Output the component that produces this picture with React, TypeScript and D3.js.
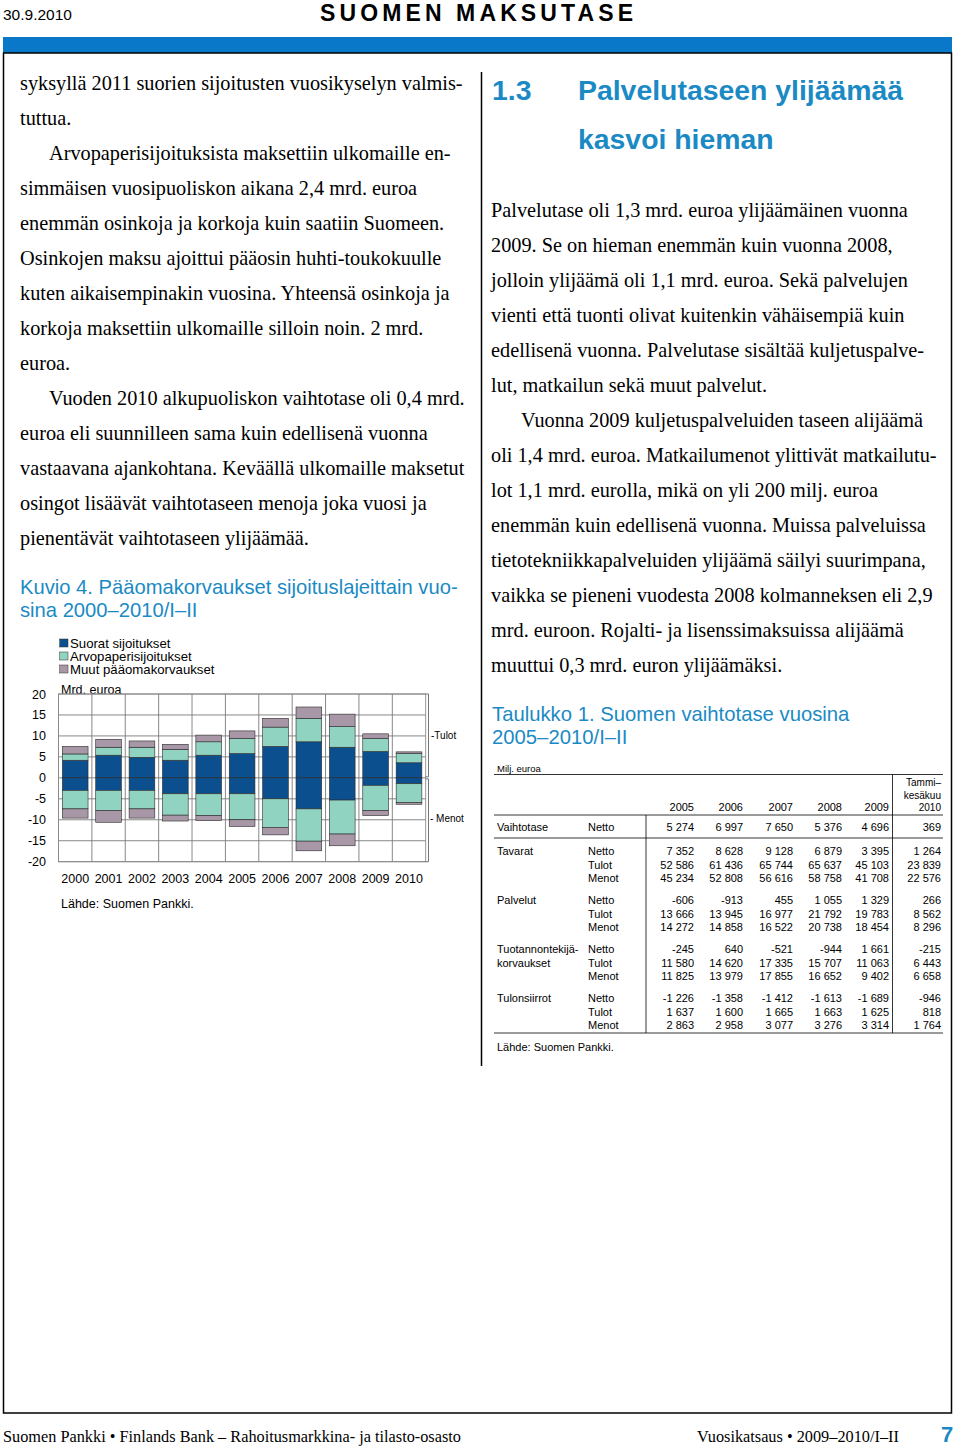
import * as d3 from "d3";

// Kuvio 4 – pääomakorvaukset, mrd. euroa
const years = ["2000", "2001", "2002", "2003", "2004", "2005", "2006", "2007", "2008", "2009", "2010"];
const suoratTulot = [4.2, 5.4, 4.9, 4.2, 5.4, 5.8, 7.5, 8.6, 7.3, 6.3, 3.6];
const arvoTulot = [1.5, 1.9, 2.4, 2.6, 3.2, 3.6, 4.6, 5.6, 4.9, 3.1, 2.2];
const muutTulot = [1.8, 1.9, 1.5, 1.2, 1.6, 1.8, 2.1, 2.7, 3.0, 1.1, 0.4];
const suoratMenot = [-3.0, -3.0, -3.0, -3.8, -3.8, -3.8, -5.0, -7.4, -5.3, -1.8, -1.4];
const arvoMenot = [-4.4, -4.8, -4.4, -5.1, -5.2, -6.2, -6.8, -7.7, -8.1, -6.0, -4.5];
const muutMenot = [-2.2, -2.8, -2.2, -1.4, -1.2, -1.6, -1.8, -2.3, -2.8, -1.2, -0.4];
const yTicks = [20, 15, 10, 5, 0, -5, -10, -15, -20];
const legendLabels = ["Suorat sijoitukset", "Arvopaperisijoitukset", "Muut pääomakorvaukset"];

// Taulukko 1
const tableYears = ["2005", "2006", "2007", "2008", "2009"];
const vaihtotase = [["Netto", "5 274", "6 997", "7 650", "5 376", "4 696", "369"]];
const tavarat = [
  ["Netto", "7 352", "8 628", "9 128", "6 879", "3 395", "1 264"],
  ["Tulot", "52 586", "61 436", "65 744", "65 637", "45 103", "23 839"],
  ["Menot", "45 234", "52 808", "56 616", "58 758", "41 708", "22 576"],
];
const palvelut = [
  ["Netto", "-606", "-913", "455", "1 055", "1 329", "266"],
  ["Tulot", "13 666", "13 945", "16 977", "21 792", "19 783", "8 562"],
  ["Menot", "14 272", "14 858", "16 522", "20 738", "18 454", "8 296"],
];
const tuotannontekija = [
  ["Netto", "-245", "640", "-521", "-944", "1 661", "-215"],
  ["Tulot", "11 580", "14 620", "17 335", "15 707", "11 063", "6 443"],
  ["Menot", "11 825", "13 979", "17 855", "16 652", "9 402", "6 658"],
];
const tulonsiirrot = [
  ["Netto", "-1 226", "-1 358", "-1 412", "-1 613", "-1 689", "-946"],
  ["Tulot", "1 637", "1 600", "1 665", "1 663", "1 625", "818"],
  ["Menot", "2 863", "2 958", "3 077", "3 276", "3 314", "1 764"],
];

const leftText = [
  "syksyllä 2011 suorien sijoitusten vuosikyselyn valmis-",
  "tuttua.",
  "Arvopaperisijoituksista maksettiin ulkomaille en-",
  "simmäisen vuosipuoliskon aikana 2,4 mrd. euroa",
  "enemmän osinkoja ja korkoja kuin saatiin Suomeen.",
  "Osinkojen maksu ajoittui pääosin huhti-toukokuulle",
  "kuten aikaisempinakin vuosina. Yhteensä osinkoja ja",
  "korkoja maksettiin ulkomaille silloin noin. 2 mrd.",
  "euroa.",
  "Vuoden 2010 alkupuoliskon vaihtotase oli 0,4 mrd.",
  "euroa eli suunnilleen sama kuin edellisenä vuonna",
  "vastaavana ajankohtana. Keväällä ulkomaille maksetut",
  "osingot lisäävät vaihtotaseen menoja joka vuosi ja",
  "pienentävät vaihtotaseen ylijäämää.",
];
const leftIndent = [2, 9];

const rightText = [
  "Palvelutase oli 1,3 mrd. euroa ylijäämäinen vuonna",
  "2009. Se on hieman enemmän kuin vuonna 2008,",
  "jolloin ylijäämä oli 1,1 mrd. euroa. Sekä palvelujen",
  "vienti että tuonti olivat kuitenkin vähäisempiä kuin",
  "edellisenä vuonna. Palvelutase sisältää kuljetuspalve-",
  "lut, matkailun sekä muut palvelut.",
  "Vuonna 2009 kuljetuspalveluiden taseen alijäämä",
  "oli 1,4 mrd. euroa. Matkailumenot ylittivät matkailutu-",
  "lot 1,1 mrd. eurolla, mikä on yli 200 milj. euroa",
  "enemmän kuin edellisenä vuonna. Muissa palveluissa",
  "tietotekniikkapalveluiden ylijäämä säilyi suurimpana,",
  "vaikka se pieneni vuodesta 2008 kolmanneksen eli 2,9",
  "mrd. euroon. Rojalti- ja lisenssimaksuissa alijäämä",
  "muuttui 0,3 mrd. euron ylijäämäksi.",
];
const rightIndent = [6];

const BLUE = "#1b8ac4";
const serif = "'Liberation Serif', 'Times New Roman', serif";
const sans = "'Liberation Sans', Arial, sans-serif";

const colors = ["#0b4f8e", "#90d3c1", "#a898a7"];

function Chart() {
  const x = d3.scaleBand().domain(years).range([58.5, 425.7]).paddingInner(0.23).paddingOuter(0.115);
  const xg = d3.scaleBand().domain(years).range([58.5, 425.7]).padding(0);
  const y = d3.scaleLinear().domain([-20, 20]).range([861.7, 694]);

  const rows = years.map((yr, i) => ({
    year: yr,
    s_in: suoratTulot[i], a_in: arvoTulot[i], m_in: muutTulot[i],
    s_out: suoratMenot[i], a_out: arvoMenot[i], m_out: muutMenot[i],
  }));
  const keys = ["s_in", "a_in", "m_in", "s_out", "a_out", "m_out"];
  const stacked = d3.stack<any>().keys(keys).offset(d3.stackOffsetDiverging)(rows);

  const [x0, x1] = [58.5, 425.7];
  return (
    <g>
      {/* legend */}
      {legendLabels.map((l, i) => (
        <g key={l}>
          <rect x={59.7} y={639 + i * 13} width={8.3} height={8} fill={colors[i]} stroke="#333" strokeWidth={0.5} />
          <text x={70} y={647.5 + i * 13} fontSize={13.2} fontFamily={sans}>{l}</text>
        </g>
      ))}
      <text x={61} y={693.5} fontSize={12.5} fontFamily={sans}>Mrd. euroa</text>

      {/* grid */}
      {yTicks.map((t) => (
        <line key={t} x1={x0} x2={x1} y1={y(t)} y2={y(t)} stroke="#7a7a7a" strokeWidth={0.9} />
      ))}
      {years.map((yr) => (
        <line key={yr} x1={xg(yr)} x2={xg(yr)} y1={y(20)} y2={y(-20)} stroke="#7a7a7a" strokeWidth={0.9} />
      ))}
      <rect x={x0} y={y(20)} width={x1 - x0} height={y(-20) - y(20)} fill="none" stroke="#8a8a8a" strokeWidth={0.9} />

      {/* bars */}
      {stacked.map((s, si) => (
        <g key={s.key}>
          {s.map((d: any) => (
            <rect
              key={d.data.year}
              x={x(d.data.year)}
              width={x.bandwidth()}
              y={y(Math.max(d[0], d[1]))}
              height={Math.abs(y(d[0]) - y(d[1]))}
              fill={colors[si % 3]}
              stroke="#2b2b2b"
              strokeWidth={0.6}
            />
          ))}
        </g>
      ))}

      {/* axes labels */}
      {yTicks.map((t) => (
        <text key={t} x={46} y={y(t) + 4.5} textAnchor="end" fontSize={12.5} fontFamily={sans}>{String(t)}</text>
      ))}
      {years.map((yr) => (
        <text key={yr} x={(x(yr) as number) + x.bandwidth() / 2} y={883} textAnchor="middle" fontSize={12.5} fontFamily={sans}>{yr}</text>
      ))}

      {/* brackets */}
      <path d={`M425.5,${y(20)} H428.5 V${y(0) - 1} H425.5`} fill="none" stroke="#666" strokeWidth={0.9} />
      <path d={`M425.5,${y(0) + 1} H428.5 V${y(-20)} H425.5`} fill="none" stroke="#666" strokeWidth={0.9} />
      <text x={431} y={y(10) + 3.5} fontSize={10} fontFamily={sans}>-Tulot</text>
      <text x={430} y={y(-10) + 2} fontSize={10} fontFamily={sans}>- Menot</text>

      <text x={61} y={908} fontSize={12.5} fontFamily={sans}>Lähde: Suomen Pankki.</text>
    </g>
  );
}

function Table() {
  const colRight = [694, 743, 793, 842, 889, 941];
  const groups = [
    { name: ["Tavarat"], rows: tavarat, y: 851 },
    { name: ["Palvelut"], rows: palvelut, y: 900 },
    { name: ["Tuotannontekijä-", "korvaukset"], rows: tuotannontekija, y: 949 },
    { name: ["Tulonsiirrot"], rows: tulonsiirrot, y: 998 },
  ];
  const fs = 11;
  const off = 4;
  return (
    <g fontFamily={sans} fontSize={fs}>
      <text x={497} y={768 + 3.5} fontSize={9.5}>Milj. euroa</text>
      <line x1={494} x2={943} y1={774.5} y2={774.5} stroke="#000" strokeWidth={0.8} />
      <text x={941} y={782 + off} textAnchor="end" fontSize={10}>Tammi–</text>
      <text x={941} y={795 + off} textAnchor="end" fontSize={10}>kesäkuu</text>
      <text x={941} y={807 + off} textAnchor="end" fontSize={10}>2010</text>
      {tableYears.map((yr, i) => (
        <text key={yr} x={colRight[i]} y={807 + off} textAnchor="end">{yr}</text>
      ))}
      <line x1={494} x2={943} y1={815} y2={815} stroke="#000" strokeWidth={0.8} />
      <text x={497} y={827 + off}>Vaihtotase</text>
      {vaihtotase.map((r) => (
        <g key="v">
          <text x={588} y={827 + off}>{r[0]}</text>
          {r.slice(1).map((v, j) => (
            <text key={j} x={colRight[j]} y={827 + off} textAnchor="end">{v}</text>
          ))}
        </g>
      ))}
      <line x1={494} x2={943} y1={838} y2={838} stroke="#000" strokeWidth={0.8} />
      {groups.map((g) => (
        <g key={g.name[0]}>
          {g.name.map((n, k) => (
            <text key={n} x={497} y={g.y + k * 13.5 + off}>{n}</text>
          ))}
          {g.rows.map((r, ri) => (
            <g key={r[0]}>
              <text x={588} y={g.y + ri * 13.5 + off}>{r[0]}</text>
              {r.slice(1).map((v, j) => (
                <text key={j} x={colRight[j]} y={g.y + ri * 13.5 + off} textAnchor="end">{v}</text>
              ))}
            </g>
          ))}
        </g>
      ))}
      <line x1={494} x2={943} y1={1033} y2={1033} stroke="#000" strokeWidth={0.8} />
      <line x1={646} x2={646} y1={815} y2={1033} stroke="#000" strokeWidth={0.8} />
      <line x1={892.5} x2={892.5} y1={774.5} y2={1033} stroke="#000" strokeWidth={0.8} />
      <text x={497} y={1047 + off}>Lähde: Suomen Pankki.</text>
    </g>
  );
}

export default function App() {
  return (
    <svg width={960} height={1450} style={{ position: "absolute", left: 0, top: 0, background: "#fff" }}>
      <rect width={960} height={1450} fill="#fff" />
      {/* header */}
      <text x={3} y={20} fontSize={15.5} fontFamily={sans}>30.9.2010</text>
      <text x={320} y={21} fontSize={23} fontWeight="bold" fontFamily={sans} textLength={313} lengthAdjust="spacing">SUOMEN MAKSUTASE</text>
      <rect x={3} y={37} width={949} height={16} fill="#0a78c8" />
      <rect x={3.5} y={53} width={948} height={1360} fill="none" stroke="#000" strokeWidth={1.5} />
      <line x1={481.5} x2={481.5} y1={72} y2={1066} stroke="#000" strokeWidth={1.5} />

      {/* left column */}
      {leftText.map((l, i) => (
        <text key={i} x={leftIndent.includes(i) ? 49 : 20} y={90 + i * 35} fontSize={20.3} fontFamily={serif}>{l}</text>
      ))}
      <text x={20} y={594} fontSize={20.2} fontFamily={sans} fill={BLUE}>Kuvio 4. Pääomakorvaukset sijoituslajeittain vuo-</text>
      <text x={20} y={617} fontSize={20.2} fontFamily={sans} fill={BLUE}>sina 2000–2010/I–II</text>
      <Chart />

      {/* right column */}
      <text x={492} y={100} fontSize={28.4} fontWeight="bold" fontFamily={sans} fill={BLUE}>1.3</text>
      <text x={578} y={100} fontSize={28.4} fontWeight="bold" fontFamily={sans} fill={BLUE}>Palvelutaseen ylijäämää</text>
      <text x={578} y={149} fontSize={28.4} fontWeight="bold" fontFamily={sans} fill={BLUE}>kasvoi hieman</text>
      {rightText.map((l, i) => (
        <text key={i} x={rightIndent.includes(i) ? 521 : 491} y={217 + i * 35} fontSize={20.3} fontFamily={serif}>{l}</text>
      ))}
      <text x={492} y={721} fontSize={20.3} fontFamily={sans} fill={BLUE}>Taulukko 1. Suomen vaihtotase vuosina</text>
      <text x={492} y={744} fontSize={20.3} fontFamily={sans} fill={BLUE}>2005–2010/I–II</text>
      <Table />

      {/* footer */}
      <text x={3} y={1442} fontSize={16.3} fontFamily={serif}>Suomen Pankki • Finlands Bank – Rahoitusmarkkina- ja tilasto-osasto</text>
      <text x={697} y={1442} fontSize={16.3} fontFamily={serif}>Vuosikatsaus • 2009–2010/I–II</text>
      <text x={941} y={1442} fontSize={22} fontWeight="bold" fontFamily={sans} fill={BLUE}>7</text>
    </svg>
  );
}
